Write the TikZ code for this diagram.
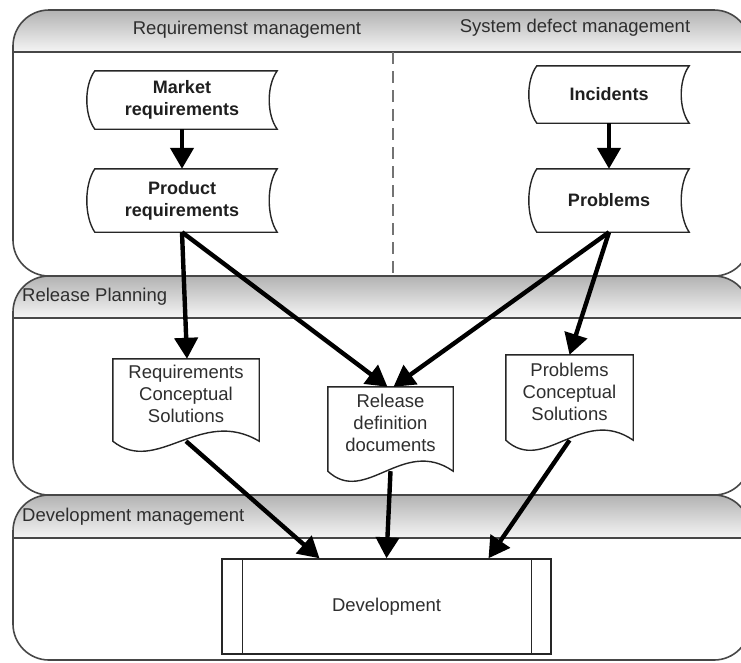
\documentclass[tikz,border=0pt]{standalone}
\usepackage{fontspec}
\setmainfont{Liberation Sans}
\usetikzlibrary{arrows.meta,calc}
\tikzset{
  poolline/.style={draw=black!72, line width=1.6pt},
  shapeline/.style={draw=black!85, line width=1.4pt, line join=miter},
  headtext/.style={font=\fontsize{18.5}{22}\selectfont, text=black!82, inner sep=0pt},
  storedbox/.style={inner sep=0pt, align=center, font=\fontsize{18}{22}\selectfont\bfseries, text=black!88},
  docbox/.style={inner sep=0pt},
  doctext/.style={inner sep=0pt, align=center, font=\fontsize{18.5}{22}\selectfont, text=black!82},
  procbox/.style={draw=black!85, line width=1.4pt, inner sep=0pt, font=\fontsize{18.5}{22}\selectfont, text=black!82},
  arr/.style={line width=4.4pt, draw=black, -{Triangle[length=21pt,width=23pt]}},
  divider/.style={draw=black!55, line width=1.8pt, dash pattern=on 12pt off 7pt}
}
\newcommand\drawpool[3]{%
  \begin{scope}
    \clip[rounded corners=36pt] (13,#1) rectangle (750,#3);
    \fill[white] (13,#1) rectangle (750,#3);
    \shade[top color=black!30, bottom color=black!4] (13,#1) rectangle (750,#2);
  \end{scope}
  \draw[poolline] (13,#2) -- (750,#2);
  \draw[poolline, rounded corners=36pt] (13,#1) rectangle (750,#3);
}
\newcommand\storedoutline[1]{%
  \draw[shapeline] ([xshift=8pt]#1.north west) -- (#1.north east)
    .. controls ($(#1.north east)!0.25!(#1.south east)+(-10.67,0)$) and ($(#1.north east)!0.75!(#1.south east)+(-10.67,0)$) .. (#1.south east)
    -- ([xshift=8pt]#1.south west)
    .. controls ($(#1.south west)!0.25!(#1.north west)+(-2.67,0)$) and ($(#1.south west)!0.75!(#1.north west)+(-2.67,0)$) .. ([xshift=8pt]#1.north west) -- cycle;}
\newcommand\docoutline[1]{%
  \draw[shapeline] (#1.south west) -- (#1.north west) -- (#1.north east) -- (#1.south east)
    .. controls ($(#1.south east)!0.4!(#1.south west)+(0,-35)$) and ($(#1.south east)!0.7!(#1.south west)+(0,35)$) .. (#1.south west) -- cycle;}
\begin{document}
\begin{tikzpicture}[x=1pt,y=-1pt]
\useasboundingbox (0,0) rectangle (741,662);
% pools
\drawpool{10}{52}{276}
\drawpool{276}{318}{495}
\drawpool{495}{538}{660}
\draw[divider] (393,52) -- (393,276);
% pool headers
\node[headtext] (h1) at (247,30) {Requiremenst management};
\node[headtext] (h2) at (575,28) {System defect management};
\node[headtext, anchor=west] (h3) at (22,297) {Release Planning};
\node[headtext, anchor=west] (h4) at (22,517) {Development management};
% stored data shapes
\node[storedbox, minimum width=190pt, minimum height=58pt] (mr) at (182,100) {Market\\requirements};
\node[storedbox, minimum width=190pt, minimum height=63pt] (pr) at (182,200.5) {Product\\requirements};
\node[storedbox, minimum width=160pt, minimum height=57pt] (inc) at (609,94.5) {Incidents};
\node[storedbox, minimum width=160pt, minimum height=63pt] (prob) at (609,200.5) {Problems};
\storedoutline{mr}
\storedoutline{pr}
\storedoutline{inc}
\storedoutline{prob}
% documents
\node[docbox, minimum width=146pt, minimum height=82pt,
  label={[doctext,yshift=6pt]center:Requirements\\Conceptual\\Solutions}] (rcs) at (186,400) {};
\node[docbox, minimum width=125pt, minimum height=84pt,
  label={[doctext,yshift=6pt]center:Release\\definition\\documents}] (rdd) at (390.5,429) {};
\node[docbox, minimum width=127pt, minimum height=85pt,
  label={[doctext,yshift=6pt]center:Problems\\Conceptual\\Solutions}] (pcs) at (569.5,397.5) {};
\docoutline{rcs}
\docoutline{rdd}
\docoutline{pcs}
% development
\node[procbox, minimum width=329pt, minimum height=95pt, fill=white] (dev) at (386.5,606.5) {Development};
\draw[shapeline] ([xshift=21pt]dev.north west) -- ([xshift=21pt]dev.south west);
\draw[shapeline] ([xshift=-20pt]dev.north east) -- ([xshift=-20pt]dev.south east);
% connectors
\draw[arr] (mr.south) -- (pr.north);
\draw[arr] (inc.south) -- (prob.north);
\draw[arr] (pr.south) -- ([xshift=1pt]rcs.north);
\draw[arr] (pr.south) -- ([xshift=-3pt]rdd.north);
\draw[arr] (prob.south) -- ([xshift=3pt]rdd.north);
\draw[arr] (prob.south) -- (pcs.north);
\draw[arr] (rcs.south) -- ([xshift=-67pt]dev.north);
\draw[arr] (rdd.south) -- (dev.north);
\draw[arr] (pcs.south) -- ([xshift=102pt]dev.north);
\end{tikzpicture}
\end{document}
